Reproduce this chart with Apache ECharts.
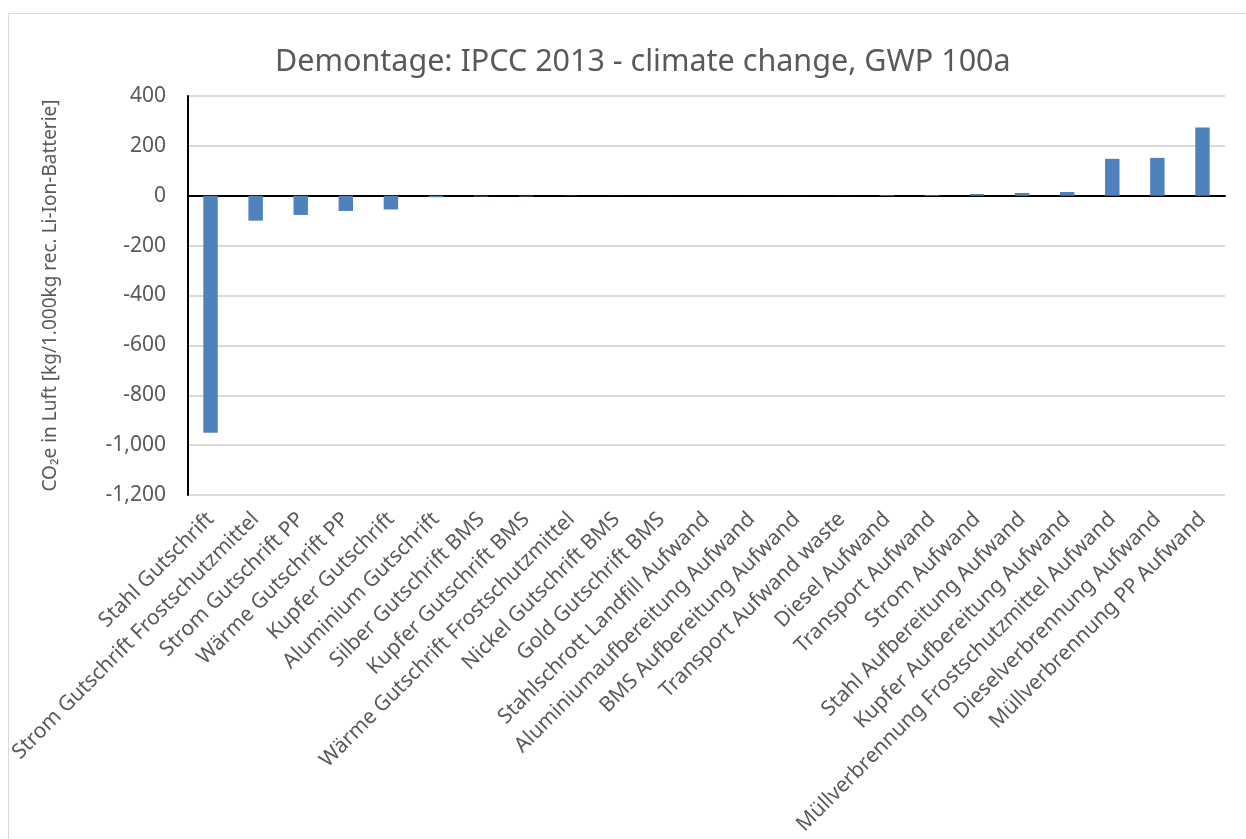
<!DOCTYPE html>
<html><head><meta charset="utf-8">
<script src="https://cdn.jsdelivr.net/npm/echarts@6/dist/echarts.min.js"></script>
<style>html,body{margin:0;padding:0;background:#fff}#c{width:1246px;height:839px}</style>
</head><body><div id="c"></div>
<script>
const categories = ["Stahl Gutschrift","Strom Gutschrift Frostschutzmittel","Strom Gutschrift PP","Wärme Gutschrift PP","Kupfer Gutschrift","Aluminium Gutschrift","Silber Gutschrift BMS","Kupfer Gutschrift BMS","Wärme Gutschrift Frostschutzmittel","Nickel Gutschrift BMS","Gold Gutschrift BMS","Stahlschrott Landfill Aufwand","Aluminiumaufbereitung Aufwand","BMS Aufbereitung Aufwand","Transport Aufwand waste","Diesel Aufwand","Transport Aufwand","Strom Aufwand","Stahl Aufbereitung Aufwand","Kupfer Aufbereitung Aufwand","Müllverbrennung Frostschutzmittel Aufwand","Dieselverbrennung Aufwand","Müllverbrennung PP Aufwand"];
const values = [-950, -100, -77, -61, -55, -6, -3, -3, -1, -0.5, -0.3, 0, 0.2, 0.3, 0.5, 3, 3, 7, 11, 15, 148, 152, 274];
const yTicks = {min: -1200, max: 400, interval: 200};
const titleText = "Demontage: IPCC 2013 - climate change, GWP 100a";
const yAxisName = "CO\u2082e in Luft [kg/1.000kg rec. Li-Ion-Batterie]";

const FONT = "Noto Sans";
const TXT = "#595959";
const chart = echarts.init(document.getElementById('c'), null, {renderer: 'canvas'});
chart.setOption({
  animation: false,
  backgroundColor: '#fff',
  graphic: [{type: 'rect', shape: {x: 8.5, y: 13.5, width: 1400, height: 1000}, style: {fill: 'none', stroke: '#d9d9d9', lineWidth: 1}, silent: true}],
  title: {text: titleText, left: 270, top: 42, textStyle: {fontFamily: FONT, fontSize: 30.5, fontWeight: 'normal', color: TXT}},
  grid: {left: 188, right: 21, top: 96, bottom: 344, containLabel: false},
  xAxis: {
    type: 'category', data: categories,
    axisLine: {onZero: true, lineStyle: {color: '#000', width: 2}},
    axisTick: {show: false},
    axisLabel: {rotate: 45, interval: 0, fontFamily: FONT, fontSize: 21, color: TXT, margin: 21}
  },
  yAxis: {
    type: 'value', min: yTicks.min, max: yTicks.max, interval: yTicks.interval,
    name: yAxisName, nameLocation: 'middle', nameGap: 128,
    nameTextStyle: {fontFamily: FONT, fontSize: 19, color: TXT},
    axisLine: {show: true, lineStyle: {color: '#000', width: 2}},
    axisTick: {show: false},
    splitLine: {lineStyle: {color: '#d9d9d9', width: 2}},
    axisLabel: {fontFamily: FONT, fontSize: 21, color: TXT, margin: 22,
      formatter: v => v.toLocaleString('en-US')}
  },
  series: [{type: 'bar', data: values, barWidth: '32%',
    itemStyle: {color: '#4f81bd'}}]
});
</script></body></html>
